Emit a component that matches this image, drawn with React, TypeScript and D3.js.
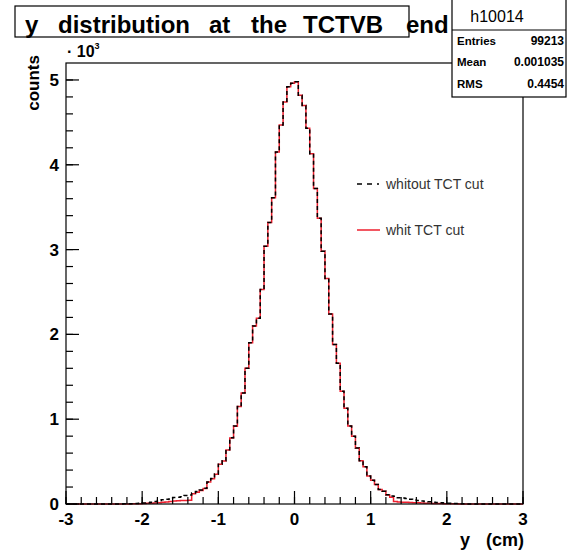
import React from "react";
import * as d3 from "d3";

// ---------- data ----------
const X_MIN = -3;
const X_MAX = 3;
const N_BINS = 120;
const Y_MAX = 5200;

// counts per 0.05 cm bin, from y = -3 to +3
const withoutCut = [
  0, 0, 0, 0, 0, 0, 0, 0, 0, 0, 0, 0, 0, 0, 0,
  2, 3, 4, 6, 9, 12, 16, 22, 30, 40, 50, 55, 60, 78, 80,
  85, 100, 105, 130, 148, 165, 185, 260, 300, 355, 470, 510, 640, 780, 920,
  1150, 1310, 1600, 1900, 2100, 2190, 2530, 3040, 3320, 3610, 4150, 4470, 4740, 4920, 4960,
  4980, 4820, 4700, 4430, 4130, 3720, 3370, 2980, 2660, 2240, 1880, 1660, 1330, 1130, 920,
  800, 660, 510, 440, 330, 280, 230, 170, 150, 110, 95, 90, 75, 70, 65,
  55, 48, 42, 36, 30, 26, 22, 18, 14, 11, 9, 7, 5, 4, 2,
  1, 0, 0, 0, 0, 0, 0, 0, 0, 0, 0, 0, 0, 0, 0,
];

const withCut = [
  0, 0, 0, 0, 0, 0, 0, 0, 0, 0, 0, 0, 0, 0, 0,
  1, 1, 2, 3, 4, 6, 8, 10, 12, 16, 20, 25, 30, 35, 38,
  40, 42, 45, 120, 140, 160, 182, 258, 298, 352, 468, 508, 638, 778, 918,
  1150, 1310, 1600, 1900, 2100, 2190, 2530, 3040, 3320, 3610, 4150, 4470, 4740, 4920, 4960,
  4980, 4820, 4700, 4430, 4130, 3720, 3370, 2980, 2660, 2240, 1880, 1660, 1330, 1130, 920,
  800, 660, 510, 440, 330, 280, 230, 170, 150, 105, 80, 30, 25, 22, 20,
  18, 16, 14, 12, 10, 8, 7, 6, 5, 4, 3, 2, 2, 1, 1,
  0, 0, 0, 0, 0, 0, 0, 0, 0, 0, 0, 0, 0, 0, 0,
];

const xMajorTicks = [-3, -2, -1, 0, 1, 2, 3];
const yMajorTicks = [0, 1000, 2000, 3000, 4000, 5000];
const titleWords = ["y", "distribution", "at", "the", "TCTVB", "end"];
const xTitleWords = ["y", "(cm)"];
const statsName = "h10014";
const statsLabels = ["Entries", "Mean", "RMS"];
const statsValues = ["99213", "0.001035", "0.4454"];
const legendLabels = ["whitout TCT cut", "whit TCT cut"];

// ---------- layout ----------
const W = 567;
const H = 553;
const L = 66;
const R = 523;
const T = 63;
const B = 504;
const FONT = "'Liberation Sans', Arial, Helvetica, sans-serif";
const RED = "#ee1f2e";

export default function App() {
  const x = d3.scaleLinear().domain([X_MIN, X_MAX]).range([L, R]);
  const y = d3.scaleLinear().domain([0, Y_MAX]).range([B, T]);
  const bw = (X_MAX - X_MIN) / N_BINS;

  const stepPath = (vals: number[]) => {
    const pts: [number, number][] = [[X_MIN, 0]];
    vals.forEach((v, i) => pts.push([X_MIN + i * bw, v]));
    pts.push([X_MAX, vals[vals.length - 1]]);
    pts.push([X_MAX, 0]);
    const line = d3
      .line<[number, number]>()
      .x((d) => x(d[0]))
      .y((d) => y(d[1]))
      .curve(d3.curveStepAfter);
    return line(pts) || "";
  };

  const xMinor: number[] = d3.range(X_MIN, X_MAX + 1e-9, 0.2);
  const yMinor: number[] = d3.range(0, Y_MAX, 200);

  const titleX = [25, 58, 209, 251, 303, 406];
  const xTitleX = [460, 486];
  const statsRowY = [45, 66, 88];

  return (
    <svg
      width={W}
      height={H}
      style={{ position: "absolute", left: 0, top: 0, background: "#fff" }}
      fontFamily={FONT}
    >
      <rect x={0} y={0} width={W} height={H} fill="#fff" />
      <defs>
        <clipPath id="frameClip">
          <rect x={L} y={T - 2} width={R - L} height={B - T + 3} />
        </clipPath>
      </defs>

      {/* histograms */}
      <g clipPath="url(#frameClip)">
        <path d={stepPath(withCut)} fill="none" stroke={RED} strokeWidth={1.5} />
        <path
          d={stepPath(withoutCut)}
          fill="none"
          stroke="#000"
          strokeWidth={1.5}
          strokeDasharray="4,3"
        />
      </g>

      {/* frame */}
      <rect x={L} y={T} width={R - L} height={B - T} fill="none" stroke="#000" strokeWidth={1.2} />

      {/* x ticks */}
      {xMinor.map((t, i) => (
        <line key={"xm" + i} x1={x(t)} x2={x(t)} y1={B} y2={B - 7} stroke="#000" strokeWidth={1.2} />
      ))}
      {xMajorTicks.map((t) => (
        <g key={"xM" + t}>
          <line x1={x(t)} x2={x(t)} y1={B} y2={B - 13} stroke="#000" strokeWidth={1.2} />
          <text x={x(t)} y={525} textAnchor="middle" fontSize={17} fontWeight="bold">
            {t}
          </text>
        </g>
      ))}

      {/* y ticks */}
      {yMinor.map((t, i) => (
        <line key={"ym" + i} x1={L} x2={L + 7} y1={y(t)} y2={y(t)} stroke="#000" strokeWidth={1.2} />
      ))}
      {yMajorTicks.map((t) => (
        <g key={"yM" + t}>
          <line x1={L} x2={L + 13} y1={y(t)} y2={y(t)} stroke="#000" strokeWidth={1.2} />
          <text x={59} y={y(t) + 6} textAnchor="end" fontSize={17} fontWeight="bold">
            {t / 1000}
          </text>
        </g>
      ))}

      {/* exponent */}
      <text x={67} y={57} fontSize={16} fontWeight="bold">
        {"\u00b7 10"}
        <tspan fontSize={9} dy={-8}>3</tspan>
      </text>

      {/* axis titles */}
      <text
        transform="translate(39,55) rotate(-90)"
        textAnchor="end"
        fontSize={17}
        fontWeight="bold"
      >
        counts
      </text>
      <text y={546} fontSize={18} fontWeight="bold">
        {xTitleWords.map((w, i) => (
          <tspan key={w} x={xTitleX[i]}>
            {w}
          </tspan>
        ))}
      </text>

      {/* legend */}
      <line x1={357} x2={379} y1={184} y2={184} stroke="#000" strokeWidth={1.5} strokeDasharray="5,5" />
      <text x={386} y={189} fontSize={14} fill="#333">
        {legendLabels[0]}
      </text>
      <line x1={357} x2={380} y1={230} y2={230} stroke={RED} strokeWidth={1.5} />
      <text x={386} y={235} fontSize={14} fill="#333">
        {legendLabels[1]}
      </text>

      {/* title box */}
      <rect x={15} y={6} width={394} height={31} fill="none" stroke="#000" strokeWidth={1.2} />
      <text y={33} fontSize={24} fontWeight="bold">
        {titleWords.map((w, i) => (
          <tspan key={w} x={titleX[i]}>
            {w}
          </tspan>
        ))}
      </text>

      {/* stats box */}
      <rect x={452} y={-1} width={114} height={98} fill="#fff" stroke="#000" strokeWidth={1.2} />
      <line x1={452} x2={566} y1={30} y2={30} stroke="#000" strokeWidth={1} />
      <text x={497} y={22} textAnchor="middle" fontSize={16}>
        {statsName}
      </text>
      {statsLabels.map((s, i) => (
        <g key={s}>
          <text x={457} y={statsRowY[i]} fontSize={11.5} fontWeight="bold">
            {s}
          </text>
          <text x={564} y={statsRowY[i]} textAnchor="end" fontSize={12} fontWeight="bold">
            {statsValues[i]}
          </text>
        </g>
      ))}
    </svg>
  );
}
